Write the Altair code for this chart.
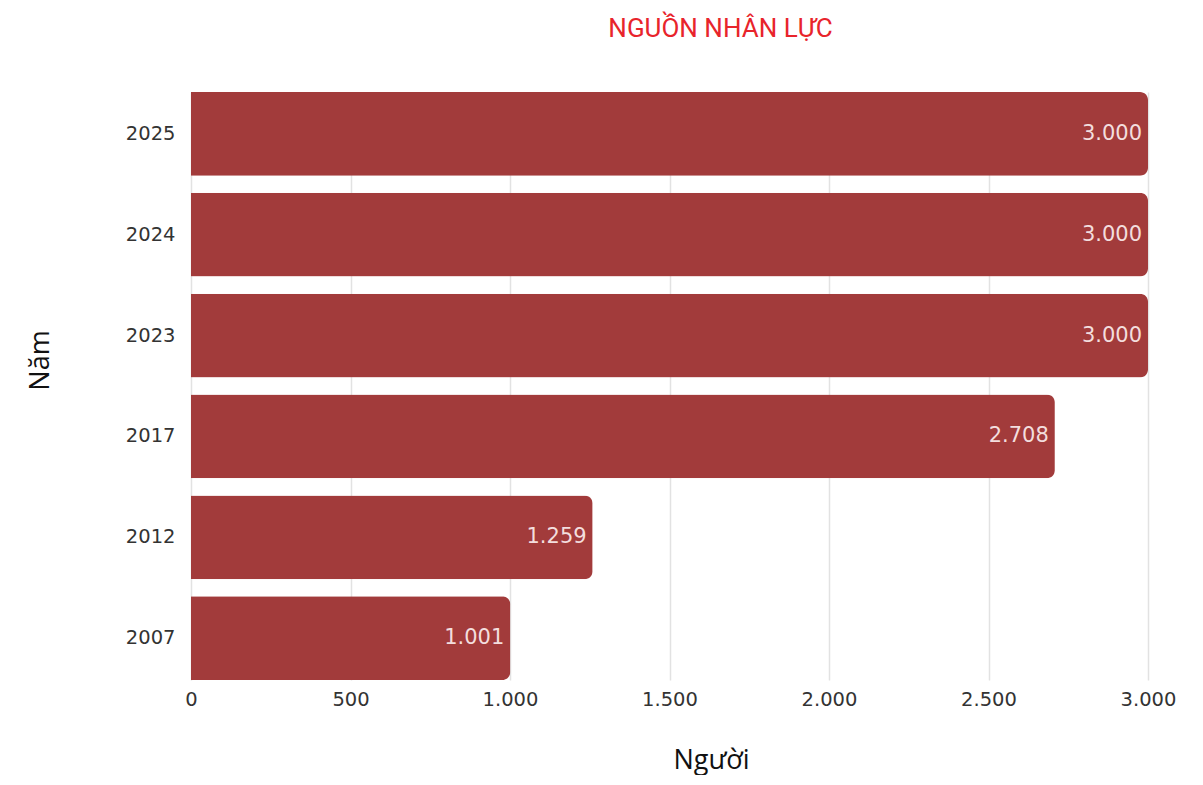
import altair as alt
import pandas as pd

years = ["2025", "2024", "2023", "2017", "2012", "2007"]
values = [3000, 3000, 3000, 2708, 1259, 1001]
x_ticks = [0, 500, 1000, 1500, 2000, 2500, 3000]

df = pd.DataFrame({"Năm": years, "Người": values})

bar_color = "#A23B3B"
tick_font = "DejaVu Sans"

base = alt.Chart(df).encode(
    y=alt.Y(
        "Năm:N",
        sort=years,
        scale=alt.Scale(paddingInner=0.17, paddingOuter=0),
        axis=alt.Axis(
            title="Năm",
            titleFont="Open Sans",
            titleFontSize=27,
            titleFontWeight="normal",
            titleColor="#111111",
            titleX=-151,
            titleY=268,
            titleAngle=-90,
            titleAlign="center",
            titleBaseline="middle",
            labelFont=tick_font,
            labelFontSize=19.5,
            labelColor="#333333",
            labelPadding=16,
            ticks=False,
            domain=False,
            grid=False,
        ),
    ),
)

bars = base.mark_bar(color=bar_color, cornerRadiusEnd=8).encode(
    x=alt.X(
        "Người:Q",
        scale=alt.Scale(domain=[0, 3000], nice=False),
        axis=alt.Axis(
            title="Người",
            values=x_ticks,
            labelExpr="replace(format(datum.value, ','), ',', '.')",
            labelFlush=False,
            titleFont="Open Sans",
            titleFontSize=27,
            titleFontWeight="normal",
            titleColor="#111111",
            titleX=520,
            titleY=80,
            titleAlign="center",
            titleBaseline="middle",
            labelFont=tick_font,
            labelFontSize=19.5,
            labelColor="#333333",
            labelPadding=10,
            ticks=False,
            domain=False,
            grid=True,
            gridColor="#e2e2e2",
            gridWidth=1.5,
        ),
    ),
)

labels = base.mark_text(
    align="right", baseline="middle", dx=-6, color="#f3dede", font=tick_font, fontSize=21
).transform_calculate(
    lbl="replace(format(datum['Người'], ','), ',', '.')"
).encode(
    x=alt.X("Người:Q"),
    text="lbl:N",
)

chart = (
    alt.layer(bars, labels)
    .properties(
        width=957,
        height=588,
        title=alt.TitleParams(
            "NGUỒN NHÂN LỰC",
            font="Roboto",
            fontSize=26,
            fontWeight="normal",
            color="#E8242B",
            anchor="middle",
            dx=51,
            offset=50,
        ),
        autosize=alt.AutoSizeParams(type="none"),
        padding={"left": 183, "top": 84, "right": 40, "bottom": 95},
    )
    .configure_view(stroke=None)
)

chart.save("out.html", embed_options={"renderer": "svg", "actions": False})
